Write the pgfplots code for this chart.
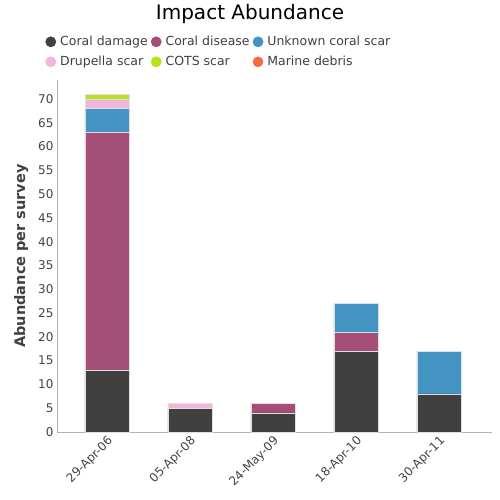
\documentclass[border=0pt]{standalone}
\usepackage{pgfplots}
\pgfplotsset{compat=1.18}
\usepackage{fontspec}
\setmainfont{DejaVu Sans}
\definecolor{cdam}{HTML}{404040}
\definecolor{cdis}{HTML}{A54E78}
\definecolor{cunk}{HTML}{4393C3}
\definecolor{cdru}{HTML}{F1B6DA}
\definecolor{ccot}{HTML}{B8E11E}
\definecolor{cmar}{HTML}{F46D43}
\definecolor{tickc}{HTML}{444444}
\begin{document}
\begin{tikzpicture}[x=1pt,y=1pt]
\begin{axis}[
  name=ax,
  at={(0,0)}, anchor=south west,
  width=435pt, height=352pt, scale only axis,
  ybar stacked, bar width=44pt,
  xmin=-0.6, xmax=4.64, ymin=0, ymax=74,
  xtick={0,1,2,3,4},
  xticklabels={29-Apr-06,05-Apr-08,24-May-09,18-Apr-10,30-Apr-11},
  x tick label style={rotate=45, anchor=north east, font=\fontsize{12}{14}\selectfont, text=tickc, inner sep=2pt},
  ytick={0,5,...,70},
  y tick label style={font=\fontsize{12}{14}\selectfont, text=tickc},
  /pgf/number format/assume math mode=true,
  major tick length=0pt,
  axis x line*=bottom, axis y line*=left,
  axis line style={draw=gray!60, line width=0.8pt},
  ylabel={\bfseries Abundance per survey},
  ylabel style={font=\fontsize{14.5}{16}\selectfont, text=cdam, yshift=3pt},
  legend columns=3,
  legend style={at={(-0.034,1.136)}, anchor=north west, draw=none, fill=none,
    font=\fontsize{12.5}{15}\selectfont, text=cdam,
    /tikz/every odd column/.append style={column sep=2pt},
    /tikz/every even column/.append style={column sep=1pt},
    row sep=5pt},
  legend cell align=left,
]
\addplot[fill=cdam, draw=white!75!gray, line width=0.5pt, legend image code/.code={\fill[cdam] (0.12cm,0) circle (0.18cm);}]
  coordinates {(0,13) (1,5) (2,4) (3,17) (4,8)};
\addplot[fill=cdis, draw=white!75!gray, line width=0.5pt, legend image code/.code={\fill[cdis] (0.12cm,0) circle (0.18cm);}]
  coordinates {(0,50) (1,0) (2,2) (3,4) (4,0)};
\addplot[fill=cunk, draw=white!75!gray, line width=0.5pt, legend image code/.code={\fill[cunk] (0.12cm,0) circle (0.18cm);}]
  coordinates {(0,5) (1,0) (2,0) (3,6) (4,9)};
\addplot[fill=cdru, draw=white!75!gray, line width=0.5pt, legend image code/.code={\fill[cdru] (0.12cm,0) circle (0.18cm);}]
  coordinates {(0,2) (1,1) (2,0) (3,0) (4,0)};
\addplot[fill=ccot, draw=white!75!gray, line width=0.5pt, legend image code/.code={\fill[ccot] (0.12cm,0) circle (0.18cm);}]
  coordinates {(0,1) (1,0) (2,0) (3,0) (4,0)};
\addlegendimage{legend image code/.code={\fill[cmar] (0.12cm,0) circle (0.18cm);}}
\legend{Coral damage, Coral disease, Unknown coral scar, Drupella scar, COTS scar, Marine debris}
\end{axis}
\node[font=\fontsize{20}{24}\selectfont] at ([shift={(193,418)}]ax.south west) {Impact Abundance};
\pgfresetboundingbox
\path[use as bounding box] ([shift={(-57,-68)}]ax.south west) rectangle ([shift={(443,432)}]ax.south west);
\end{tikzpicture}
\end{document}
